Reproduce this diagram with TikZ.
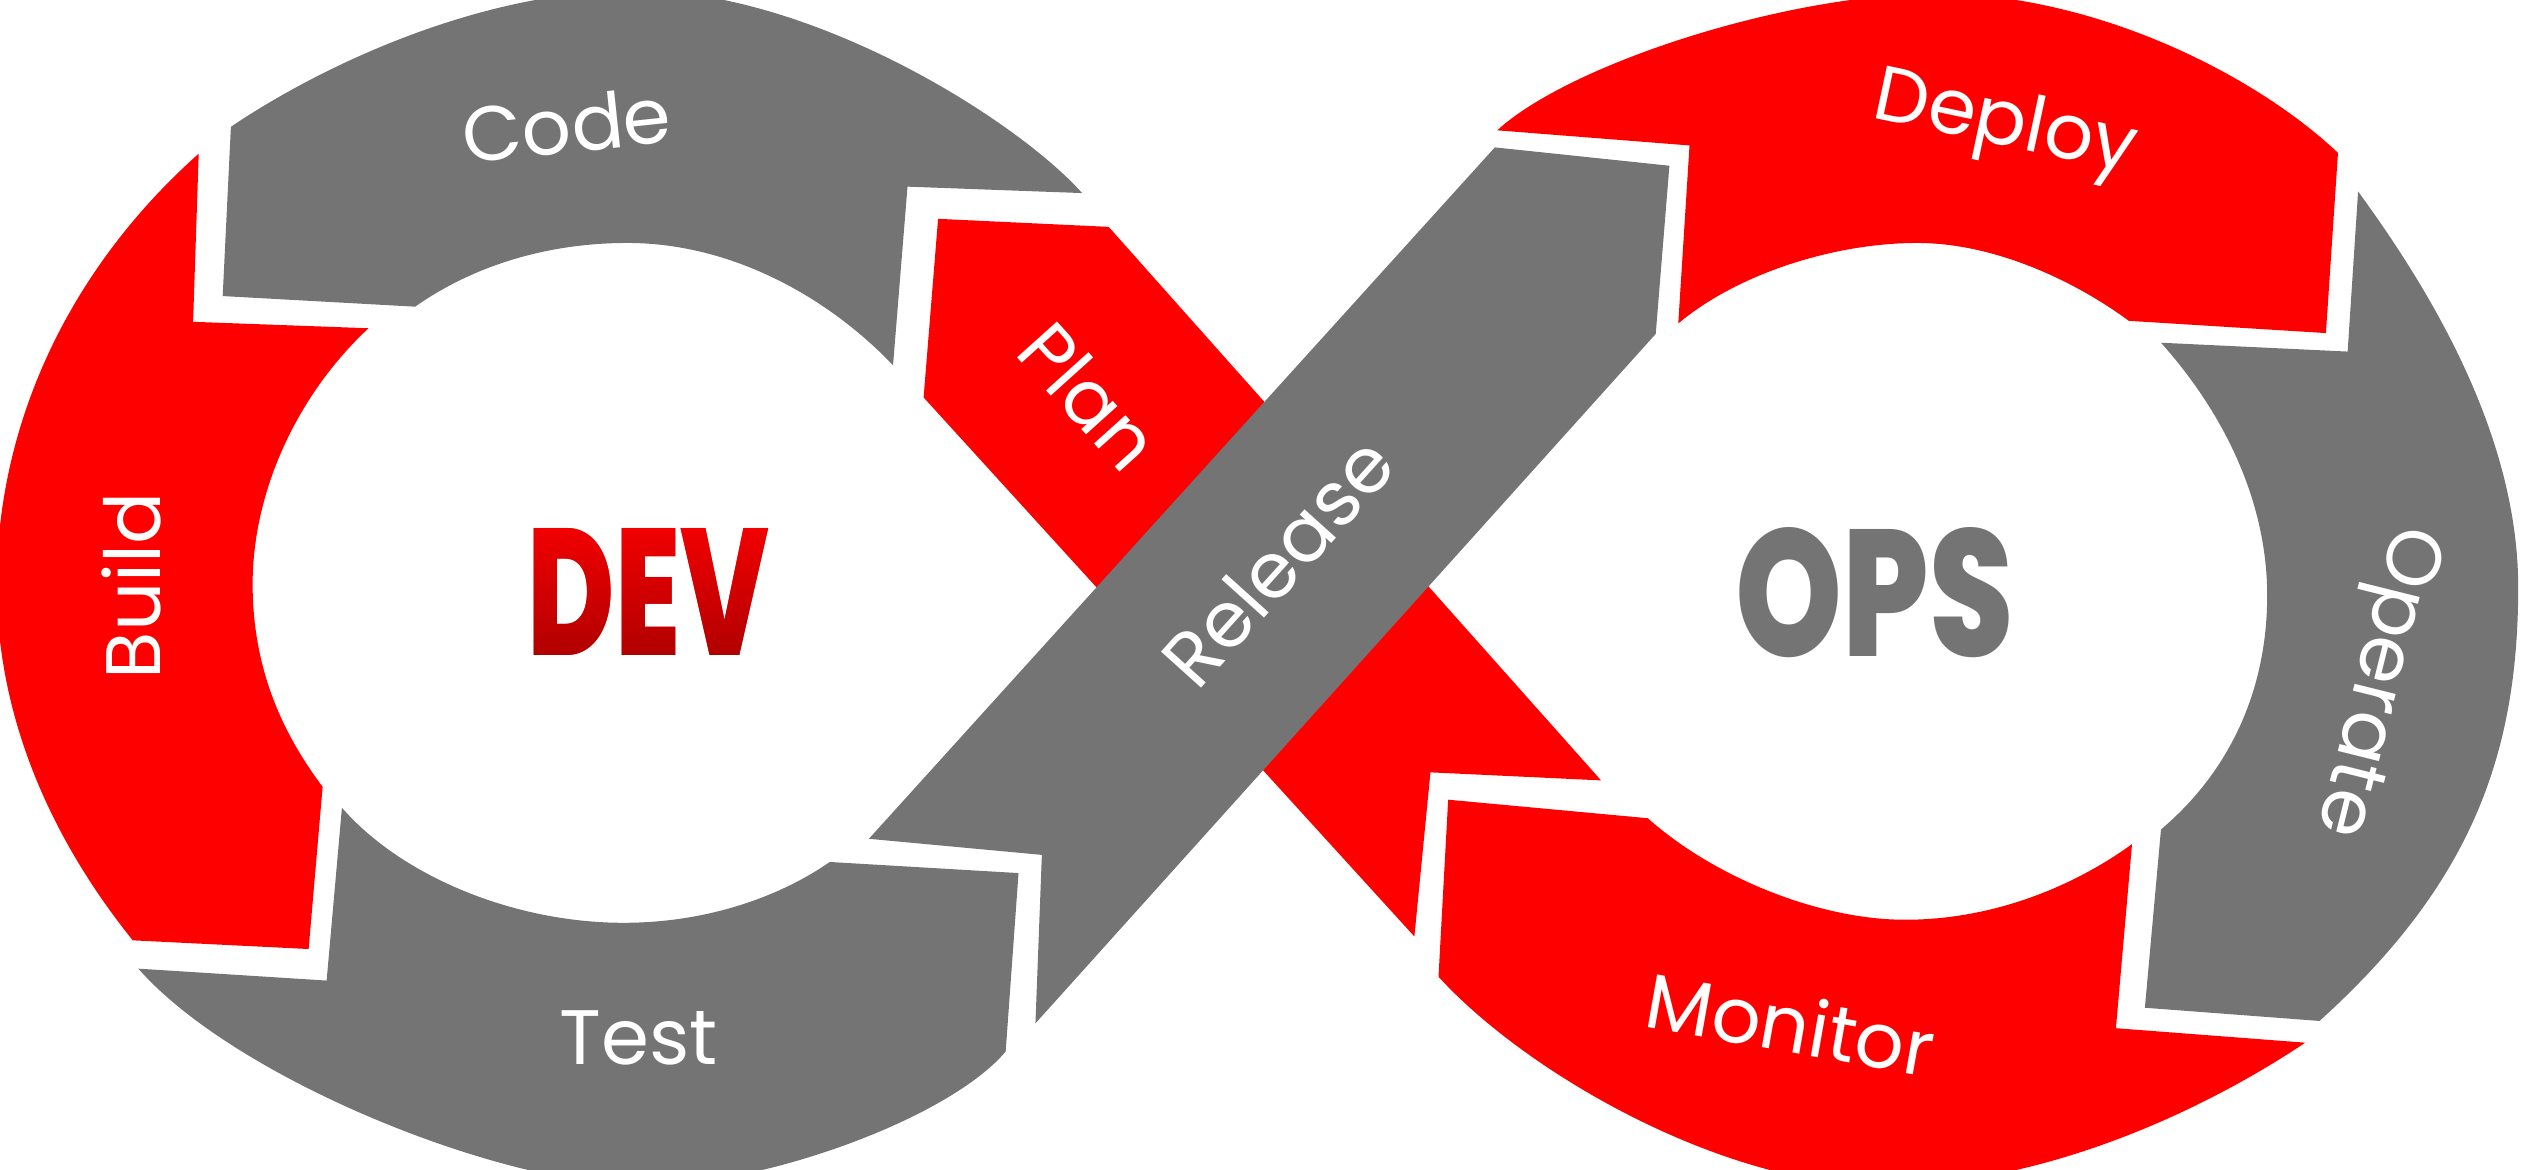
\documentclass[tikz,border=0pt]{standalone}
\usepackage{fontspec}
\setmainfont{Poppins}
\newfontfamily\heavyfont{Poppins ExtraBold}
\usepackage{xcolor}
\usetikzlibrary{fadings}
\definecolor{loopred}{HTML}{FF0000}
\definecolor{loopgray}{HTML}{747474}
\definecolor{devred}{HTML}{D20000}
\definecolor{devtop}{HTML}{F20000}
\definecolor{devbot}{HTML}{B00000}
\tikzset{%
  redseg/.style={fill=loopred},
  grayseg/.style={fill=loopgray},
  stage/.style={text=white,inner sep=0pt,font=\fontsize{24}{28}\selectfont},
  bigword/.style={inner sep=0pt,font=\heavyfont\fontsize{56}{60}\selectfont}
}
\begin{tikzfadingfrompicture}[name=devfade]
\node[bigword,text=transparent!0] {\scalebox{0.66}[1]{DEV}};
\end{tikzfadingfrompicture}

\begin{document}
\begin{tikzpicture}[x=0.5pt,y=-0.5pt]
\useasboundingbox (0,0) rectangle (1568,727);
\clip (0,0) rectangle (1568,727);
%% left loop (DEV)
% Code
\fill[grayseg] (143.5,78.8) .. controls (201.6,39.6) and (300,-6) .. (395,-6)
  .. controls (505,-6) and (632.7,75.2) .. (672.5,120) -- (564,116) -- (555,227)
  .. controls (515,185) and (455,151) .. (390,151)
  .. controls (335,151) and (290,168) .. (258,190.6) -- (138.4,184) -- cycle;
% Build
\fill[redseg] (123.5,95.5) -- (120,200) -- (229,204)
  .. controls (185,245) and (157,305) .. (157,363)
  .. controls (157,415) and (175,455) .. (200.5,489) -- (191.8,589.8) -- (82.5,584.4)
  .. controls (30.6,519.8) and (-2,444.4) .. (-2,363.5)
  .. controls (-2,261.3) and (44.5,165.8) .. (123.5,95.5) -- cycle;
% Test
\fill[grayseg] (86,602) -- (203,609.4) -- (212.5,502)
  .. controls (250,545) and (320,573.5) .. (387.5,573.5)
  .. controls (440,573.5) and (485,557) .. (515.7,535.7) -- (633,542.6) -- (625,653.5)
  .. controls (590,695) and (475,737) .. (400,737)
  .. controls (310,737) and (145.3,669.7) .. (86,602) -- cycle;
%% crossing bands
\fill[redseg] (583,136) -- (689,141) -- (995,485) -- (889,480) -- (879,582) -- (574,247) -- cycle;
\fill[grayseg] (540,521.3) -- (929,91.6) -- (1037.5,103) -- (1029,207.5) -- (643.5,636) -- (647.5,531.3) -- cycle;
%% right loop (OPS)
% Deploy
\fill[redseg] (930.5,81) .. controls (975,40) and (1110,-4) .. (1204,-4)
  .. controls (1300,-4) and (1400,45) .. (1453,95) -- (1445.5,207) -- (1323,199.4)
  .. controls (1290,175) and (1240,151) .. (1191.5,151)
  .. controls (1140,151) and (1080,170) .. (1043,201) -- (1050,90.4) -- cycle;
% Operate
\fill[grayseg] (1465.5,119) .. controls (1510,180) and (1565,270) .. (1565,365)
  .. controls (1565,470) and (1535,550) .. (1441.5,634.5) -- (1333,626.3) -- (1343,515.5)
  .. controls (1385,480) and (1409,430) .. (1409,370)
  .. controls (1409,315) and (1385,260) .. (1343,213) -- (1459,218.5) -- cycle;
% Monitor
\fill[redseg] (900,497) -- (1024,508.5)
  .. controls (1065,545) and (1130,571.6) .. (1184,571.6)
  .. controls (1240,571.6) and (1290,550) .. (1325,524.6) -- (1315,639) -- (1432.6,648)
  .. controls (1370,690) and (1270,737) .. (1170,737)
  .. controls (1070,737) and (947.8,666.2) .. (894,607) -- cycle;
%% labels
\node[stage,anchor=base,rotate=6] (code) at (354,95) {Code};
\node[stage,anchor=base,rotate=90] (build) at (100,364) {Build};
\node[stage,anchor=base] (test) at (397,661.5) {Test};
\node[stage,rotate=-48] (plan) at (677,246) {Plan};
\node[stage,rotate=48] (release) at (794,349) {Release};
\node[stage,rotate=-12] (deploy) at (1246,79) {Deploy};
\node[stage,rotate=-104] (operate) at (1475,423) {Operate};
\node[stage,rotate=-10] (monitor) at (1113,636) {Monitor};
\node[bigword,text=devred] (dev) at (403,368) {\scalebox{0.66}[1]{DEV}};
\shade[path fading=devfade,fit fading=false,fading transform={shift={(dev.center)}},
  top color=devtop,bottom color=devbot] (dev.south west) rectangle (dev.north east);
\node[bigword,text=loopgray] (ops) at (1165,368) {\scalebox{0.755}[1]{OPS}};
\end{tikzpicture}
\end{document}
